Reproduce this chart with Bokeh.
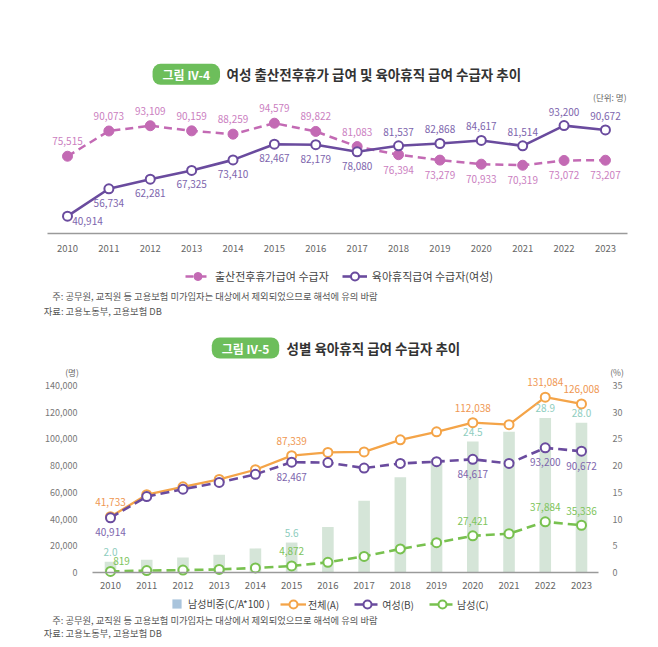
from bokeh.plotting import figure
from bokeh.models import (ColumnDataSource, Range1d, LinearAxis, FixedTicker,
                          NumeralTickFormatter, Label, Legend, LegendItem)
from bokeh.layouts import column
from bokeh.core.properties import value
from bokeh.embed import file_html
from bokeh.resources import INLINE

# ---------------- data ----------------
years = [2010, 2011, 2012, 2013, 2014, 2015, 2016, 2017, 2018, 2019, 2020, 2021, 2022, 2023]

# Figure IV-4
maternity = [75515, 90073, 93109, 90159, 88259, 94579, 89822, 81083, 76394, 73279, 70933, 70319, 73072, 73207]
parental_women = [40914, 56734, 62281, 67325, 73410, 82467, 82179, 78080, 81537, 82868, 84617, 81514, 93200, 90672]

# Figure IV-5
total_A = [41733, 58136, 64071, 69616, 76831, 87339, 89795, 90123, 99199, 105165, 112038, 110555, 131084, 126008]
women_B = [40914, 56734, 62281, 67325, 73410, 82467, 82179, 78080, 81537, 82868, 84617, 81514, 93200, 90672]
men_C = [819, 1402, 1790, 2293, 3421, 4872, 7616, 12043, 17662, 22297, 27421, 29041, 37884, 35336]
men_share = [2.0, 2.4, 2.8, 3.3, 4.5, 5.6, 8.5, 13.4, 17.8, 21.2, 24.5, 26.3, 28.9, 28.0]
labeled_years2 = [2010, 2015, 2020, 2022, 2023]

y_ticks_left = [0, 20000, 40000, 60000, 80000, 100000, 120000, 140000]
y_ticks_right = [0, 5, 10, 15, 20, 25, 30, 35]

title1 = "여성 출산전후휴가 급여 및 육아휴직 급여 수급자 추이"
title2 = "성별 육아휴직 급여 수급자 추이"
badge1 = "그림 IV-4"
badge2 = "그림 IV-5"
note_text = "주: 공무원, 교직원 등 고용보험 미가입자는 대상에서 제외되었으므로 해석에 유의 바람"
source_text = "자료: 고용노동부, 고용보험 DB"

# ---------------- style ----------------
FONT = "Noto Sans CJK KR"
PINK, PINK_T = "#C36AB4", "#CB80BF"
PURPLE, PURPLE_T = "#6A4B9E", "#7D65AD"
ORANGE, ORANGE_T = "#F4A448", "#EF9752"
GREEN, GREEN_T = "#78C14F", "#7EC45B"
TEAL_T = "#8ECDBE"
BAR = "#D5E5D8"
BADGE = "#6DBE5B"
W = 658
NOTE_SIZE = "9.3px"
TITLE_SIZE = "13.5px"


def fmt(v):
    return f"{v:,}"


def canvas_label(p, x, y, text, size, color, bold=False, align="left", **kw):
    p.add_layout(Label(x=x, y=y, x_units="canvas", y_units="canvas", text=text,
                       text_font=FONT, text_font_size=size, text_color=color,
                       text_font_style="bold" if bold else "normal",
                       text_align=align, text_baseline="middle", **kw))


def no_ticks(ax):
    ax.major_tick_out = 0
    ax.major_tick_in = 0
    ax.minor_tick_out = 0
    ax.minor_tick_in = 0


def style_xaxis(ax, standoff, fixed, bounds):
    ax.ticker = FixedTicker(ticks=years)
    no_ticks(ax)
    ax.fixed_location = fixed
    ax.bounds = bounds
    ax.axis_line_color = "#9a9a9a"
    ax.axis_line_width = 1.5
    ax.major_label_text_font = FONT
    ax.major_label_text_font_size = "9.5px"
    ax.major_label_text_color = "#666666"
    ax.major_label_standoff = standoff


def base_figure(h, xr, yr, **kw):
    p = figure(width=W, height=h, x_range=xr, y_range=yr, output_backend="svg",
               toolbar_location=None, min_border=0, min_border_left=0, min_border_right=0,
               min_border_top=0, min_border_bottom=0, **kw)
    p.grid.visible = False
    p.outline_line_color = None
    p.background_fill_color = "white"
    p.border_fill_color = "white"
    return p


# ================= Figure 1 (frame = whole canvas) =================
H1 = 333
X1_0, X1_STEP = 67.0, 41.38                 # canvas px of first year, px per year
Y1_REF_PX, Y1_REF_VAL, Y1_PX = 215.7, 40914, 1.733e-3   # calibration: px, value, px per person


def x1(c):
    return years[0] + (c - X1_0) / X1_STEP


def v1(c):
    return Y1_REF_VAL + (Y1_REF_PX - c) / Y1_PX


p1 = base_figure(H1, Range1d(x1(0), x1(W)), Range1d(v1(H1), v1(0)), y_axis_location=None)
style_xaxis(p1.xaxis[0], 11, v1(233), (x1(47), x1(627)))

mat_off = [-15] * 8 + [15] * 6
par_off = [5] + [14] * 7 + [-14] * 6
par_xoff = [20] + [0] * 13
src1 = ColumnDataSource(dict(year=years, mat=maternity, par=parental_women,
                             mat_lbl=[fmt(v) for v in maternity], par_lbl=[fmt(v) for v in parental_women],
                             mat_off=mat_off, par_off=par_off, par_xoff=par_xoff))

pink_line = p1.line("year", "mat", source=src1, line_color=PINK, line_width=2.5, line_dash="8 5")
pink_dots = p1.scatter("year", "mat", source=src1, size=10, fill_color=PINK, line_color=PINK)
purple_line = p1.line("year", "par", source=src1, line_color=PURPLE, line_width=2.6)
purple_dots = p1.scatter("year", "par", source=src1, size=9, fill_color="white", line_color=PURPLE, line_width=2)

p1.text("year", "mat", text="mat_lbl", source=src1, y_offset="mat_off", text_align="center",
        text_baseline="middle", text_font=value(FONT), text_font_size="10px", text_color=PINK_T)
p1.text("year", "par", text="par_lbl", source=src1, y_offset="par_off", x_offset="par_xoff",
        text_align="center", text_baseline="middle", text_font=value(FONT), text_font_size="10px",
        text_color=PURPLE_T)

leg1 = Legend(items=[LegendItem(label="출산전후휴가급여 수급자", renderers=[pink_line, pink_dots]),
                     LegendItem(label="육아휴직급여 수급자(여성)", renderers=[purple_line, purple_dots])],
              orientation="horizontal", location=(185, 47), glyph_width=25, glyph_height=20,
              label_height=20, label_standoff=5, spacing=13, padding=0, margin=0,
              border_line_color=None, background_fill_alpha=0,
              label_text_font=FONT, label_text_font_size="11px", label_text_color="#444444")
p1.add_layout(leg1)

canvas_label(p1, 185.8, 73.8, badge1, "12px", "white", bold=True, align="center",
             background_fill_color=BADGE, padding=(10, 2), border_radius=8)
canvas_label(p1, 226, 73.5, title1, TITLE_SIZE, "#333333", bold=True)
canvas_label(p1, 626, 96, "(단위: 명)", "8.5px", "#666666", align="right")
canvas_label(p1, 51.7, 295, note_text, NOTE_SIZE, "#555555")
canvas_label(p1, 43.3, 310, source_text, NOTE_SIZE, "#555555")

# ================= Figure 2 (frame = whole canvas) =================
H2 = 313
X2_0, X2_STEP = 110.0, 36.23
Y2_ZERO_PX, Y2_PX = 239.0, 1.3375e-3
PCT_RATIO = 4000.0   # people per percent point on the twin axis


def x2(c):
    return years[0] + (c - X2_0) / X2_STEP


def v2(c):
    return (Y2_ZERO_PX - c) / Y2_PX


p2 = base_figure(H2, Range1d(x2(0), x2(W)), Range1d(v2(H2), v2(0)))
p2.extra_y_ranges = {"pct": Range1d(v2(H2) / PCT_RATIO, v2(0) / PCT_RATIO)}
style_xaxis(p2.xaxis[0], 9, 0, (x2(92), x2(598)))

ly = p2.yaxis[0]
ly.ticker = FixedTicker(ticks=y_ticks_left)
ly.formatter = NumeralTickFormatter(format="0,0")
ly.fixed_location = x2(92)
ry = LinearAxis(y_range_name="pct", ticker=FixedTicker(ticks=y_ticks_right))
ry.fixed_location = x2(598)
p2.add_layout(ry, "right")
for ax, so in ((ly, 15), (ry, 14)):
    ax.axis_line_color = None
    no_ticks(ax)
    ax.major_label_text_font = FONT
    ax.major_label_text_font_size = "9px"
    ax.major_label_text_color = "#777777"
    ax.major_label_standoff = so

src2 = ColumnDataSource(dict(year=years, A=total_A, B=women_B, C=men_C, share=men_share))
sel = [years.index(y) for y in labeled_years2]
men_xoff = [11 if years[i] == 2010 else 0 for i in sel]
men_yoff = [-10 if years[i] == 2010 else -14.5 for i in sel]
lab2 = ColumnDataSource(dict(year=[years[i] for i in sel],
                             A=[total_A[i] for i in sel], B=[women_B[i] for i in sel],
                             C=[men_C[i] for i in sel], share=[men_share[i] for i in sel],
                             A_lbl=[fmt(total_A[i]) for i in sel], B_lbl=[fmt(women_B[i]) for i in sel],
                             C_lbl=[fmt(men_C[i]) for i in sel], S_lbl=[f"{men_share[i]:.1f}" for i in sel],
                             C_xoff=men_xoff, C_yoff=men_yoff))

p2.vbar(x="year", top="share", width=0.32, source=src2, y_range_name="pct", fill_color=BAR, line_color=None)
sq = p2.scatter(x=[1900], y=[0], marker="square", size=9, fill_color="#A9C4DC", line_color=None)

o_line = p2.line("year", "A", source=src2, line_color=ORANGE, line_width=2.3)
o_pts = p2.scatter("year", "A", source=src2, size=9, fill_color="white", line_color=ORANGE, line_width=2)
pu_line = p2.line("year", "B", source=src2, line_color=PURPLE, line_width=2.6, line_dash="9 5")
pu_pts = p2.scatter("year", "B", source=src2, size=9, fill_color="white", line_color=PURPLE, line_width=2)
g_line = p2.line("year", "C", source=src2, line_color=GREEN, line_width=2.6, line_dash="9 5")
g_pts = p2.scatter("year", "C", source=src2, size=9, fill_color="white", line_color=GREEN, line_width=2)

common = dict(source=lab2, text_align="center", text_baseline="middle", text_font=value(FONT),
              text_font_size="10px")
p2.text("year", "share", text="S_lbl", y_offset=-9.5, y_range_name="pct", text_color=TEAL_T, **common)
p2.text("year", "A", text="A_lbl", y_offset=-15, text_color=ORANGE_T, **common)
p2.text("year", "B", text="B_lbl", y_offset=14.5, text_color=PURPLE_T, **common)
p2.text("year", "C", text="C_lbl", x_offset="C_xoff", y_offset="C_yoff", text_color=GREEN_T, **common)

leg_common = dict(orientation="horizontal", padding=0, margin=0, border_line_color=None,
                  background_fill_alpha=0, label_text_font=FONT, label_text_font_size="10px",
                  label_text_color="#444444")
legA = Legend(items=[LegendItem(label="남성비중(C/A*100 )", renderers=[sq])],
              location=(165, 31), glyph_width=23, glyph_height=23, label_height=23,
              label_standoff=-3, **leg_common)
legB = Legend(items=[LegendItem(label="전체(A)", renderers=[o_line, o_pts]),
                     LegendItem(label="여성(B)", renderers=[pu_line, pu_pts]),
                     LegendItem(label="남성(C)", renderers=[g_line, g_pts])],
              location=(280, 32), glyph_width=26, glyph_height=20, label_height=20,
              label_standoff=2, spacing=15, **leg_common)
p2.add_layout(legA)
p2.add_layout(legB)

canvas_label(p2, 245, 14.5, badge2, "12px", "white", bold=True, align="center",
             background_fill_color=BADGE, padding=(10, 2), border_radius=8)
canvas_label(p2, 286, 14, title2, TITLE_SIZE, "#333333", bold=True)
canvas_label(p2, 71.5, 38.7, "(명)", "8.5px", "#666666", align="center")
canvas_label(p2, 616.5, 38, "(%)", "8.5px", "#666666", align="center")
canvas_label(p2, 51.7, 286.3, note_text, NOTE_SIZE, "#555555")
canvas_label(p2, 43.3, 299.7, source_text, NOTE_SIZE, "#555555")

layout = column(p1, p2)
open("out.html", "w").write(file_html(layout, INLINE))
